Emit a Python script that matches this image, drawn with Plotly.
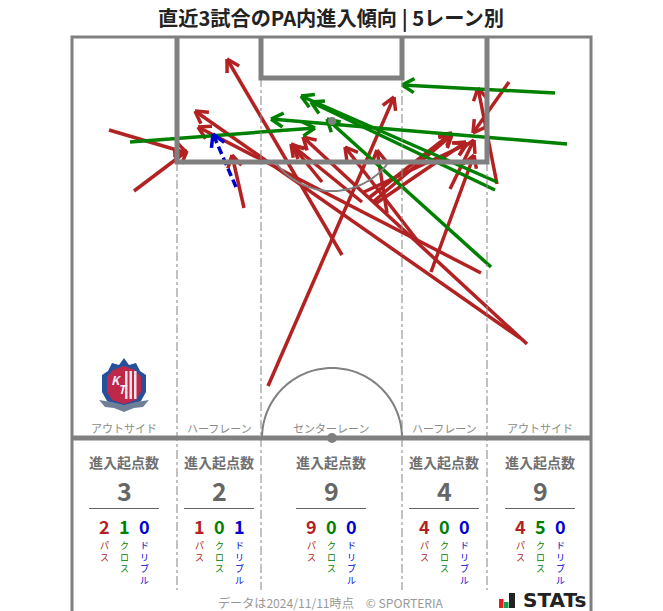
import math
import plotly.graph_objects as go

FONT = "Noto Sans CJK JP"
RED, GREEN, BLUE = "#b22222", "#008000", "#0000cd"
GRAY = "#808080"

# arrows: start -> tip, in picture units
pass_x0 = [109, 134, 244, 268, 342, 322, 362, 387, 373, 364, 375, 370, 481, 431, 450, 417, 509, 497, 527, 520]
pass_y0 = [130, 191, 208, 386, 255, 182, 202, 213, 202, 192, 204, 197, 273, 272, 189, 240, 82, 184, 344, 338]
pass_x1 = [187, 187, 232, 394, 227, 291, 293, 377, 452, 467, 466, 452, 198, 474, 474, 345, 473, 478, 303, 195]
pass_y1 = [153, 151, 155, 97, 59, 144, 146, 150, 135, 144, 142, 133, 127, 155, 140, 147, 133, 88, 137, 111]
cross_x0 = [130, 555, 567, 497, 495, 491]
cross_y0 = [142, 93, 144, 182, 190, 267]
cross_x1 = [315, 402, 271, 301, 311, 327]
cross_y1 = [128, 85, 119, 96, 102, 119]
drib_x0 = [236]
drib_y0 = [187]
drib_x1 = [213]
drib_y1 = [134]

# lanes
lane_names = ["アウトサイド", "ハーフレーン", "センターレーン", "ハーフレーン", "アウトサイド"]
lane_centers = [124, 219, 331, 444, 540]
lane_totals = [3, 2, 9, 4, 9]
lane_pass = [2, 1, 9, 4, 4]
lane_cross = [1, 0, 0, 0, 5]
lane_drib = [0, 1, 0, 0, 0]

fig = go.Figure()


def arrow_trace(x0s, y0s, x1s, y1s, color, dash="solid", width=3.5, head=14):
    xs, ys, hx, hy = [], [], [], []
    for a, b, c, d in zip(x0s, y0s, x1s, y1s):
        L = math.hypot(c - a, d - b)
        ux, uy = (c - a) / L, (d - b) / L
        xs += [a, c, None]
        ys += [b, d, None]
        for s in (1, -1):
            ang = math.radians(30) * s
            rx = ux * math.cos(ang) - uy * math.sin(ang)
            ry = ux * math.sin(ang) + uy * math.cos(ang)
            hx += [c - rx * head, c, None]
            hy += [d - ry * head, d, None]
    fig.add_trace(go.Scatter(x=xs, y=ys, mode="lines", line=dict(color=color, width=width, dash=dash), hoverinfo="skip"))
    fig.add_trace(go.Scatter(x=hx, y=hy, mode="lines", line=dict(color=color, width=width), hoverinfo="skip"))


def hline(x0, x1, y, color=GRAY, width=1, dash=None):
    fig.add_shape(type="line", x0=x0, x1=x1, y0=y, y1=y, line=dict(color=color, width=width, dash=dash))


def vline(x, y0, y1, color=GRAY, width=1, dash=None):
    fig.add_shape(type="line", x0=x, x1=x, y0=y0, y1=y1, line=dict(color=color, width=width, dash=dash))


def text(x, y, s, size, color, bold=False, yanchor="middle"):
    fig.add_annotation(x=x, y=y, text=f"<b>{s}</b>" if bold else s, showarrow=False, xanchor="center", yanchor=yanchor,
                       font=dict(family=FONT, size=size, color=color))


def arc(cx, cy, r, a0, a1, n=60):
    return [(cx + r * math.cos(math.radians(a0 + (a1 - a0) * i / n)), cy + r * math.sin(math.radians(a0 + (a1 - a0) * i / n))) for i in range(n + 1)]


def path(pts, close=False):
    return "M" + "L".join(f"{x:.1f},{y:.1f}" for x, y in pts) + ("Z" if close else "")


# pitch: lane separators
for x, top in ((177, 162), (261, 78), (402, 78), (487, 162)):
    vline(x, top, 590, "#909090", 1.1, "dashdot")
# outer border
fig.add_shape(type="path", path="M72,611L72,37L591,37L591,611", line=dict(color=GRAY, width=3))
# penalty area, goal area
fig.add_shape(type="path", path="M177,37L177,162L487,162L487,37", line=dict(color=GRAY, width=5))
fig.add_shape(type="path", path="M261,37L261,78L402,78L402,37", line=dict(color=GRAY, width=5))
hline(72, 591, 438, GRAY, 5)
# arcs
fig.add_shape(type="path", path=path(arc(332, 438, 70, 180, 360)), line=dict(color=GRAY, width=2))
fig.add_shape(type="path", path=path(arc(332, 121, 70, 35, 145)), line=dict(color=GRAY, width=2))
fig.add_shape(type="circle", x0=327, x1=337, y0=433, y1=443, fillcolor=GRAY, line=dict(width=0))
fig.add_shape(type="circle", x0=328, x1=336, y0=117, y1=125, fillcolor=GRAY, line=dict(width=0))

arrow_trace(pass_x0, pass_y0, pass_x1, pass_y1, RED)
arrow_trace(cross_x0, cross_y0, cross_x1, cross_y1, GREEN)
arrow_trace(drib_x0, drib_y0, drib_x1, drib_y1, BLUE, dash="8px,4px")

# title and footer
text(331, 17.5, "直近3試合のPA内進入傾向 | 5レーン別", 20.2, "#222222", True)
text(331, 602.5, "データは2024/11/11時点　© SPORTERIA", 12.1, "#999999")

# lane summaries
for nm, cx, tot, p, c, d in zip(lane_names, lane_centers, lane_totals, lane_pass, lane_cross, lane_drib):
    text(cx, 428, nm, 11, "#8a8a8a")
    text(cx, 461.5, "進入起点数", 14, "#707070", True)
    text(cx, 490, str(tot), 25, "#666666", True)
    hline(cx - 35, cx + 35, 508.5, "#666666", 1)
    for off, val, col, lab in ((-20, p, RED, "パス"), (0, c, GREEN, "クロス"), (20, d, BLUE, "ドリブル")):
        text(cx + off, 525.5, str(val), 18, col, True)
        text(cx + off, 537, "<br>".join(lab), 9, col, yanchor="top")

# crest
crest = [(124, 358), (129, 365), (136, 363), (140, 371), (146, 375), (146, 392), (141, 401), (133, 405), (124, 411), (115, 405), (107, 401), (102, 392), (102, 375), (108, 371), (112, 363), (119, 365)]
fig.add_shape(type="path", path=path(crest, True), fillcolor="#27509b", line=dict(width=0))
inner = [(124, 366), (135, 370), (141, 377), (141, 392), (136, 400), (124, 404), (112, 400), (107, 392), (107, 377), (113, 370)]
fig.add_shape(type="path", path=path(inner, True), fillcolor="#c0284a", line=dict(width=0))
for sx in (125, 129.5, 134):
    fig.add_shape(type="rect", x0=sx, x1=sx + 2.5, y0=371, y1=399, fillcolor="#f0e4ea", line=dict(width=0))
text(116, 379, "<i>K</i>", 12, "#e8eef8", True)
text(123, 388, "<i>T</i>", 12, "#e8eef8", True)
banner = [(99, 400), (112, 402), (124, 405), (136, 402), (149, 400), (143, 407), (134, 408), (124, 412), (114, 408), (105, 407)]
fig.add_shape(type="path", path=path(banner, True), fillcolor="#6f7f98", line=dict(width=0))

# STATs logo
fig.add_shape(type="rect", x0=499, x1=503.5, y0=599, y1=608, fillcolor="#e02020", line=dict(width=0))
fig.add_shape(type="rect", x0=504, x1=508.5, y0=602, y1=608, fillcolor="#10a050", line=dict(width=0))
fig.add_shape(type="rect", x0=509, x1=515, y0=593, y1=608, fillcolor="#222222", line=dict(width=0))
fig.add_annotation(x=554, y=600, text="<b>STATs</b>", showarrow=False, xanchor="center", yanchor="middle",
                   font=dict(family="DejaVu Sans", size=20, color="#222222"))

fig.update_layout(width=663, height=611, margin=dict(l=0, r=0, t=0, b=0), showlegend=False,
                  plot_bgcolor="white", paper_bgcolor="white",
                  xaxis=dict(range=[0, 663], visible=False, fixedrange=True),
                  yaxis=dict(range=[611, 0], visible=False, fixedrange=True))
fig.write_html("out.html", config=dict(displayModeBar=False),
               post_script="document.body.style.margin='0';document.documentElement.style.overflow='hidden';")
